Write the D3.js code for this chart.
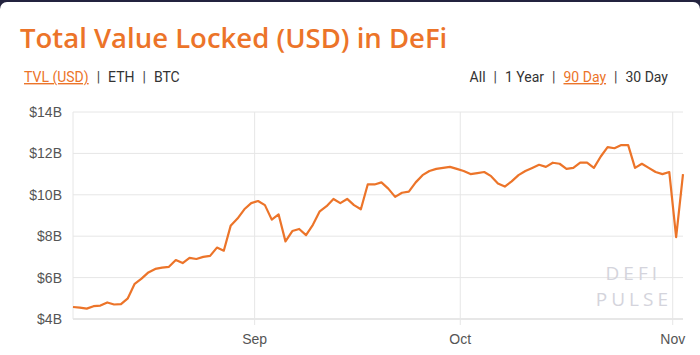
<!DOCTYPE html>
<html>
<head>
<meta charset="utf-8">
<script src="https://cdn.jsdelivr.net/npm/d3@7"></script>
<style>
  body { margin: 0; background: #ffffff; }
  svg { display: block; }
</style>
</head>
<body>
<div id="chart"></div>
<script>
// Daily TVL (billions USD), one value per day starting 2020-08-05
const startDate = '2020-08-05T12:00'
const tvlValues = [
  4.58, 4.55, 4.5, 4.62, 4.65, 4.8, 4.7, 4.72, 5.0, 5.7,
  5.95, 6.25, 6.42, 6.48, 6.52, 6.85, 6.7, 6.95, 6.9, 7.0,
  7.05, 7.45, 7.3, 8.5, 8.85, 9.3, 9.6, 9.7, 9.5, 8.8,
  9.05, 7.75, 8.25, 8.35, 8.05, 8.55, 9.2, 9.45, 9.8, 9.6,
  9.8, 9.5, 9.3, 10.5, 10.5, 10.6, 10.3, 9.9, 10.1, 10.15,
  10.6, 10.95, 11.15, 11.25, 11.3, 11.35, 11.25, 11.15, 11.0, 11.05,
  11.1, 10.9, 10.55, 10.4, 10.65, 10.95, 11.15, 11.3, 11.45, 11.35,
  11.55, 11.5, 11.25, 11.3, 11.55, 11.55, 11.3, 11.85, 12.3, 12.25,
  12.4, 12.4, 11.3, 11.5, 11.3, 11.1, 11.0, 11.1, 7.95, 11.0
]
const yTicks = [4, 6, 8, 10, 12, 14]
const monthTicks = ['2020-09-01', '2020-10-01', '2020-11-01']
const leftLinks = ['TVL (USD)', 'ETH', 'BTC']
const rightLinks = ['All', '1 Year', '90 Day', '30 Day']

const W = 700
const H = 355
const margin = { top: 112, right: 17, bottom: 36, left: 73 }
const orange = '#ec7429'

const parse = d3.timeParse('%Y-%m-%dT%H:%M')
const t0 = parse(startDate)
const data = tvlValues.map((v, i) => ({ date: d3.timeDay.offset(t0, i), value: v }))

const svg = d3.select('#chart').append('svg')
  .attr('width', W)
  .attr('height', H)

// Card edge: dark strip at the top with rounded white card
svg.append('rect').attr('width', W).attr('height', 12).attr('fill', '#23233f')
svg.append('rect')
  .attr('x', 0).attr('y', 2)
  .attr('width', W).attr('height', H)
  .attr('rx', 7)
  .attr('fill', '#ffffff')

// Title
svg.append('text')
  .attr('x', 20)
  .attr('y', 48)
  .attr('fill', orange)
  .style('font-family', '"Open Sans", sans-serif')
  .style('font-weight', 600)
  .style('font-size', '27.5px')
  .text('Total Value Locked (USD) in DeFi')

// Link rows under the title: items separated by "|" with even gaps
function drawLinks (items, activeIdx, x, alignRight) {
  const g = svg.append('g')
    .style('font-family', 'Roboto, sans-serif')
    .style('font-size', '14px')
  const gap = 8
  let cx = 0
  const parts = []
  items.forEach((t, i) => {
    if (i > 0) {
      const sep = g.append('text').attr('y', 82).attr('fill', '#444').text('|')
      cx += gap
      parts.push([sep, cx])
      cx += sep.node().getComputedTextLength() + gap
    }
    const s = g.append('text').attr('y', 82).attr('fill', i === activeIdx ? orange : '#333').text(t)
    if (i === activeIdx) s.style('text-decoration', 'underline')
    parts.push([s, cx])
    cx += s.node().getComputedTextLength()
  })
  const x0 = alignRight ? x - cx : x
  parts.forEach(([el, off]) => el.attr('x', x0 + off))
}
drawLinks(leftLinks, 0, 24, false)
drawLinks(rightLinks, 2, 668, true)

const width = W - margin.left - margin.right
const height = H - margin.top - margin.bottom

const x = d3.scaleTime()
  .domain([data[0].date, data[data.length - 1].date])
  .range([margin.left, margin.left + width])

const y = d3.scaleLinear()
  .domain([4, 14])
  .range([margin.top + height, margin.top])

// Horizontal gridlines
svg.append('g')
  .selectAll('line')
  .data(yTicks)
  .join('line')
  .attr('x1', margin.left)
  .attr('x2', margin.left + width)
  .attr('y1', d => y(d))
  .attr('y2', d => y(d))
  .attr('stroke', d => d === 4 ? '#cfcfcf' : '#e6e6e6')
  .attr('stroke-width', 1)

// Vertical gridlines (left edge + month starts)
const monthDates = monthTicks.map(d3.timeParse('%Y-%m-%d'))
svg.append('line')
  .attr('x1', margin.left).attr('x2', margin.left)
  .attr('y1', margin.top).attr('y2', margin.top + height)
  .attr('stroke', '#e6e6e6')
svg.append('g')
  .selectAll('line')
  .data(monthDates)
  .join('line')
  .attr('x1', d => x(d))
  .attr('x2', d => x(d))
  .attr('y1', margin.top)
  .attr('y2', margin.top + height + 6)
  .attr('stroke', '#e6e6e6')

// Y axis labels
svg.append('g')
  .selectAll('text')
  .data(yTicks)
  .join('text')
  .attr('x', margin.left - 11)
  .attr('y', d => y(d) + 5)
  .attr('text-anchor', 'end')
  .attr('fill', '#555')
  .style('font-family', '"Liberation Sans", Arial, sans-serif')
  .style('font-size', '14px')
  .text(d => '$' + d + 'B')

// X axis labels
const monthFmt = d3.timeFormat('%b')
svg.append('g')
  .selectAll('text')
  .data(monthDates)
  .join('text')
  .attr('x', d => x(d))
  .attr('y', margin.top + height + 25)
  .attr('text-anchor', 'middle')
  .attr('fill', '#555')
  .style('font-family', '"Liberation Sans", Arial, sans-serif')
  .style('font-size', '14px')
  .text(d => monthFmt(d))

// Watermark
const wm = svg.append('g')
  .attr('fill', '#d4d4dc')
  .style('font-family', '"Open Sans", sans-serif')
  .style('font-size', '19px')
  .style('letter-spacing', '4px')
  .attr('text-anchor', 'end')
wm.append('text').attr('x', 661).attr('y', 280).text('DEFI')
wm.append('text').attr('x', 672).attr('y', 306).text('PULSE')

// Line
const line = d3.line()
  .x(d => x(d.date))
  .y(d => y(d.value))

svg.append('path')
  .datum(data)
  .attr('d', line)
  .attr('fill', 'none')
  .attr('stroke', orange)
  .attr('stroke-width', 2.2)
  .attr('stroke-linejoin', 'round')
</script>
</body>
</html>
